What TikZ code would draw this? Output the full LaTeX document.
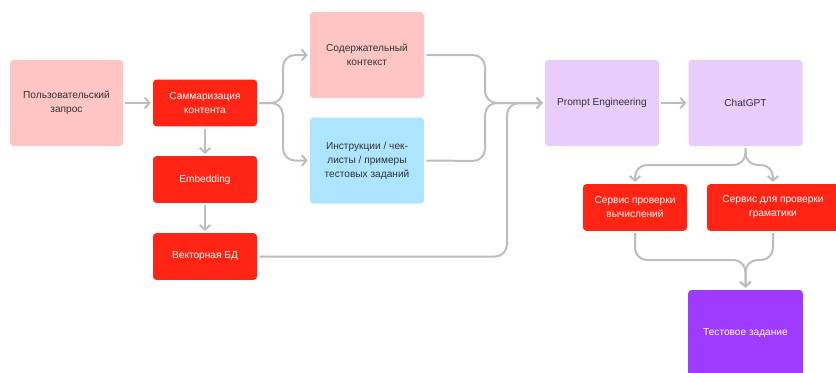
\documentclass[tikz,border=0pt]{standalone}
\usepackage{fontspec}
\setmainfont{Liberation Sans}
\usetikzlibrary{arrows.meta}
\definecolor{pinkbox}{HTML}{FFC4C4}
\definecolor{redbox}{HTML}{FF2414}
\definecolor{bluebox}{HTML}{ADE4FF}
\definecolor{lilacbox}{HTML}{E8CCFC}
\definecolor{purplebox}{HTML}{9E3BFF}
\definecolor{linegray}{HTML}{BDBDBD}
\definecolor{textdark}{HTML}{333333}
\tikzset{
  box/.style={rounded corners=2.5pt, inner sep=0pt, align=center,
    font=\fontsize{7.6}{10.5}\selectfont},
  softbox/.style={box, fill=#1, text=textdark,
    minimum width=85.5pt, minimum height=64.5pt},
  hotbox/.style={box, fill=redbox, text=white,
    minimum width=78pt, minimum height=35pt},
  conn/.style={draw=linegray, line width=1.5pt, rounded corners=9pt,
    -{Straight Barb[length=3.5pt,width=8pt]},
    shorten <=1.5pt, shorten >=1.5pt}
}
\begin{document}
\begin{tikzpicture}[x=0.75pt, y=-0.75pt]
    \useasboundingbox (0, 0) rectangle (836, 372);
    \node [softbox=pinkbox, minimum width=84.75pt] (query) at (66.5, 103)
        {Пользовательский\\запрос};
    \node [hotbox] (summary) at (205, 103) {Саммаризация\\контента};
    \node [hotbox] (embed) at (205, 179.5) {Embedding};
    \node [hotbox] (vecdb) at (205, 256.5) {Векторная БД};
    \node [softbox=pinkbox] (context) at (367, 55) {Содержательный\\контекст};
    \node [softbox=bluebox] (instr) at (367, 160.5)
        {Инструкции / чек-\\листы / примеры\\тестовых заданий};
    \node [softbox=lilacbox] (prompt) at (602, 103) {Prompt Engineering};
    \node [softbox=lilacbox] (chat) at (745.5, 103) {ChatGPT};
    \node [hotbox] (calc) at (635, 207.5) {Сервис проверки\\вычислений};
    \node [hotbox, minimum width=99pt] (gram) at (773, 207.5)
        {Сервис для проверки\\граматики};
    \node [box, fill=purplebox, text=white, minimum width=86pt,
        minimum height=64.5pt] (task) at (745.5, 333) {Тестовое задание};
    % connectors
    \draw [conn] (query) -- (summary);
    \draw [conn] (summary) -- (embed);
    \draw [conn] (embed) -- (vecdb);
    \draw [conn] (summary.east) -- (283, 103) |- (context.west);
    \draw [conn] (summary.east) -- (283, 103) |- (instr.west);
    \draw [conn] (context.east) -- (485, 55) |- (prompt.west);
    \draw [conn] (instr.east) -- (485, 161) |- (prompt.west);
    \draw [conn] (vecdb.east) -- (507, 256.5) |- (prompt.west);
    \draw [conn] (prompt) -- (chat);
    \draw [conn] (chat.south) -- (745.5, 165) -| (calc.north);
    \draw [conn] (chat.south) -- (745.5, 165) -| (gram.north);
    \draw [conn] (calc.south) -- (635, 260) -| (task.north);
    \draw [conn] (gram.south) -- (773, 260) -| (task.north);
\end{tikzpicture}
\end{document}
